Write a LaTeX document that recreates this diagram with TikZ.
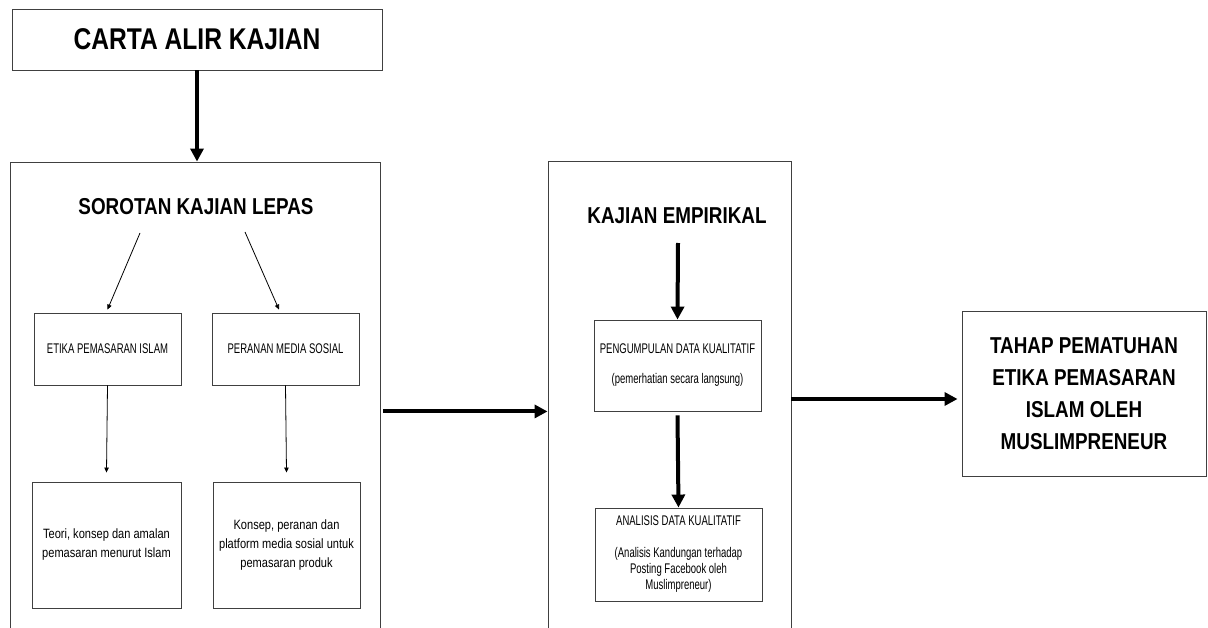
\documentclass[tikz,border=0pt]{standalone}
\usepackage{fontspec}
\setmainfont{Liberation Sans}[FakeStretch=0.82]
\newfontfamily\narrowsans{Liberation Sans}[FakeStretch=0.68]
\usetikzlibrary{arrows.meta}
\begin{document}
\begin{tikzpicture}[x=1pt,y=-1pt,
  box/.style={draw=black!75, line width=0.9pt, inner sep=0pt, align=center},
  bigarrow/.style={-{Triangle[length=13pt,width=13pt]}, line width=4pt},
  smallarrow/.style={-{Triangle[length=5pt,width=4.5pt]}, line width=0.8pt},
  head/.style={font=\fontsize{23}{32}\selectfont\bfseries, align=center, inner sep=0pt}]
\useasboundingbox (0,0) rectangle (1208,628);
\clip (0,0) rectangle (1208,628);
\fill[white] (0,0) rectangle (1208,628);

% title
\node[box, minimum width=370pt, minimum height=61pt, font=\fontsize{30}{36}\selectfont\bfseries] (title) at (197,39.5) {CARTA ALIR KAJIAN};

% left big box
\node[box, minimum width=370pt, minimum height=478pt] (lbox) at (195,401) {};
\node[head] (sorotan) at (196,207) {SOROTAN KAJIAN LEPAS};
\node[box, minimum width=147pt, minimum height=72pt, font=\narrowsans\fontsize{14}{16}\selectfont] (etika) at (107.5,349) {ETIKA PEMASARAN ISLAM};
\node[box, minimum width=147pt, minimum height=72pt, font=\narrowsans\fontsize{14}{16}\selectfont] (peranan) at (285.5,349) {PERANAN MEDIA SOSIAL};
\node[box, minimum width=149pt, minimum height=126pt, font=\fontsize{13.5}{19}\selectfont] (teori) at (106.5,545) {Teori, konsep dan amalan\\pemasaran menurut Islam};
\node[box, minimum width=147pt, minimum height=126pt, font=\fontsize{13.5}{19}\selectfont] (konsep) at (286.5,545) {Konsep, peranan dan\\platform media sosial untuk\\pemasaran produk};
\coordinate (s1) at (140,233);
\coordinate (s2) at (245,232);

% middle big box
\node[box, minimum width=243pt, minimum height=479pt] (mbox) at (669.5,400.5) {};
\node[head] (empirikal) at (677,216) {KAJIAN EMPIRIKAL};
\node[box, minimum width=167pt, minimum height=91pt, font=\narrowsans\fontsize{14}{30}\selectfont] (pg) at (677.5,365.5) {PENGUMPULAN DATA KUALITATIF\\(pemerhatian secara langsung)};
\node[box, minimum width=167pt, minimum height=93pt, font=\narrowsans\fontsize{14}{16}\selectfont] (an) at (678.5,554.5) {ANALISIS DATA KUALITATIF\\[16pt](Analisis Kandungan terhadap\\Posting Facebook oleh\\Muslimpreneur)};
\coordinate (e1) at (678,243);

% right box
\node[box, minimum width=244pt, minimum height=165pt, font=\fontsize{23}{32}\selectfont\bfseries] (rbox) at (1084,393.5) {TAHAP PEMATUHAN\\ETIKA PEMASARAN\\ISLAM OLEH\\MUSLIMPRENEUR};

% connectors
\draw[bigarrow] (title.south) -- (title.south |- lbox.north);
\draw[smallarrow] (s1) -- ([yshift=3pt]etika.north);
\draw[smallarrow] (s2) -- ([xshift=-6.5pt,yshift=3pt]peranan.north);
\draw[smallarrow] (etika.south) -- ([yshift=9pt]teori.north);
\draw[smallarrow] (peranan.south) -- ([yshift=9pt]konsep.north);
\draw[bigarrow] ([xshift=3pt]lbox.east |- pg.south) -- (mbox.west |- pg.south);
\draw[bigarrow] (e1) -- (pg.north);
\draw[bigarrow] ([yshift=-4pt]pg.south) -- (an.north);
\draw[bigarrow] (mbox.east |- 0,399) -- ([xshift=-4pt]rbox.west |- 0,399);
\end{tikzpicture}
\end{document}
